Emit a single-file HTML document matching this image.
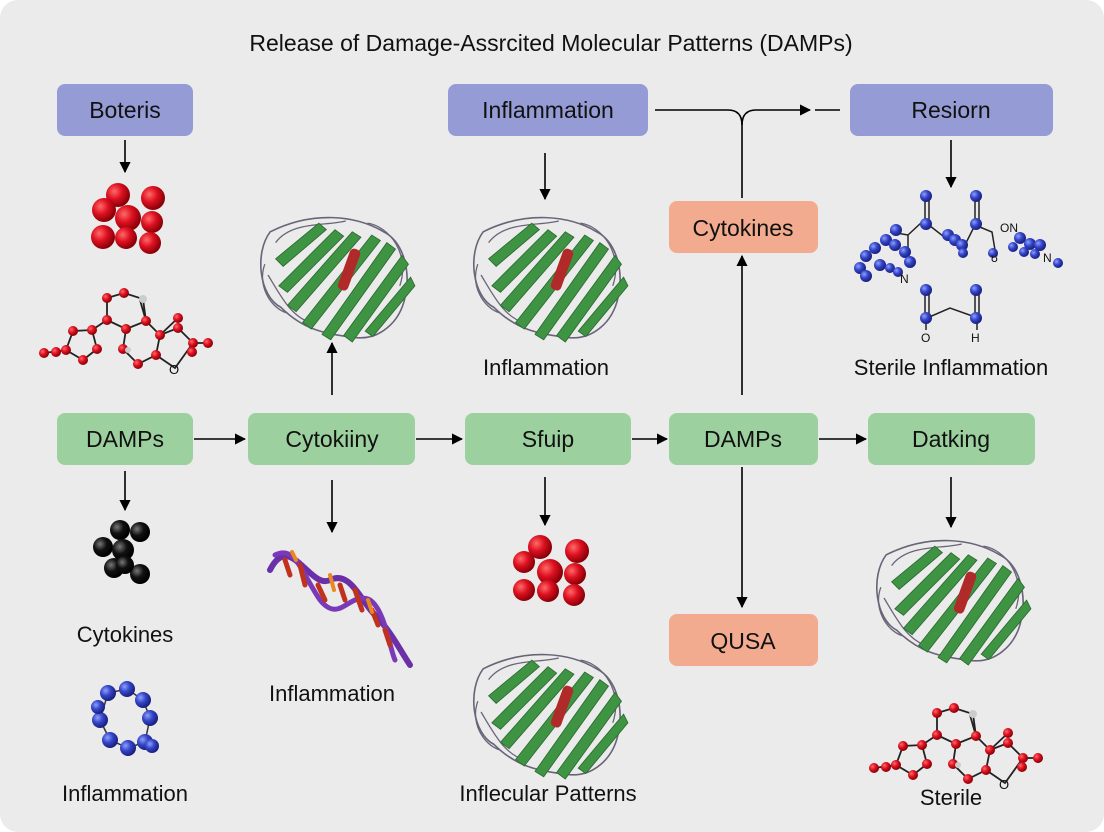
<!DOCTYPE html>
<html><head><meta charset="utf-8"><style>
html,body{margin:0;padding:0;background:#fff;}
svg{display:block;}
text{font-family:"Liberation Sans",sans-serif;fill:#111;}
</style></head><body>
<svg width="1104" height="832" viewBox="0 0 1104 832" xmlns="http://www.w3.org/2000/svg">
<defs>
<radialGradient id="rg" cx="35%" cy="35%" r="65%"><stop offset="0" stop-color="#ff6a6a"/><stop offset="0.5" stop-color="#dd1020"/><stop offset="1" stop-color="#8a0008"/></radialGradient>
<radialGradient id="bg" cx="35%" cy="35%" r="65%"><stop offset="0" stop-color="#8fa0ff"/><stop offset="0.5" stop-color="#3445c8"/><stop offset="1" stop-color="#1a2080"/></radialGradient>
<radialGradient id="kg" cx="35%" cy="35%" r="65%"><stop offset="0" stop-color="#777"/><stop offset="0.5" stop-color="#111"/><stop offset="1" stop-color="#000"/></radialGradient>
<marker id="ah" viewBox="0 0 10 10" refX="9" refY="5" markerWidth="7" markerHeight="7" orient="auto"><path d="M0,0 L10,5 L0,10 z" fill="#000"/></marker>
<g id="prot">
 <path d="M-60,-40 C-75,-20 -70,20 -50,30 C-30,50 -10,55 20,58 C40,60 60,45 65,20 C70,0 65,-30 45,-40 C20,-55 -20,-60 -60,-40 Z" fill="none" stroke="#6a6478" stroke-width="1.5"/>
 <path d="M-55,-30 C-40,-50 -10,-45 10,-50 M-62,0 C-50,20 -40,40 -20,45 M30,-48 C50,-45 70,-20 60,10 M-65,-10 C-72,10 -60,30 -45,35" fill="none" stroke="#6a6478" stroke-width="1.2"/>
 <g fill="#3f9444" stroke="#2b6b30" stroke-width="0.8">
  <path d="M-55,-15 L-15,-48 L-8,-42 L-48,-8 Z"/>
  <path d="M-52,10 L0,-42 L8,-36 L-44,16 Z"/>
  <path d="M-44,28 L16,-40 L24,-35 L-36,34 Z"/>
  <path d="M-30,44 L34,-37 L42,-32 L-22,50 Z"/>
  <path d="M-12,55 L48,-30 L56,-24 L-4,60 Z"/>
  <path d="M8,56 L62,-18 L68,-10 L16,62 Z"/>
  <path d="M28,52 L70,2 L74,10 L35,57 Z"/>
 </g>
 <rect x="8" y="-25" width="10" height="40" rx="4" transform="rotate(20 13 -5)" fill="#b02a2a"/>
</g>
<g id="redmol">
 <g stroke="#222" stroke-width="1.8" fill="none">
  <path d="M44,353 L66,350 L73,331 L92,330 L97,349 L83,360 L66,350 M92,330 L107,320 L107,298 L124,293 L143,299 L146,321 L126,329 L107,320 M126,329 L123,349 L138,364 L156,355 L160,335 L146,321 M160,335 L178,318 M160,335 L178,328 L193,343 L208,343 M193,343 L175,368 L156,355 M140,300 L146,321"/>
 </g>
 <g fill="url(#rg)">
  <circle cx="44" cy="353" r="5"/><circle cx="56" cy="352" r="5"/><circle cx="66" cy="350" r="5"/><circle cx="73" cy="331" r="5"/><circle cx="92" cy="330" r="5"/><circle cx="97" cy="349" r="5"/><circle cx="83" cy="360" r="5"/><circle cx="107" cy="320" r="5"/><circle cx="107" cy="298" r="5"/><circle cx="124" cy="293" r="5"/><circle cx="146" cy="321" r="5"/><circle cx="126" cy="329" r="5"/><circle cx="123" cy="349" r="5"/><circle cx="138" cy="364" r="5"/><circle cx="156" cy="355" r="5"/><circle cx="160" cy="335" r="5"/><circle cx="178" cy="318" r="5"/><circle cx="178" cy="328" r="5"/><circle cx="193" cy="343" r="5"/><circle cx="208" cy="343" r="5"/><circle cx="192" cy="352" r="5"/>
 </g>
 <circle cx="143" cy="299" r="4" fill="#ccc"/><circle cx="128" cy="350" r="3" fill="#ccc"/>
 <text x="169" y="374" font-size="13">O</text>
</g>
</defs>
<rect x="0" y="0" width="1104" height="832" rx="18" fill="#ebebeb"/>
<text x="551" y="51" font-size="23" text-anchor="middle">Release of Damage-Assrcited Molecular Patterns (DAMPs)</text>

<!-- boxes -->
<g font-size="23">
<rect x="57" y="84" width="136" height="52" rx="8" fill="#959bd4"/><text x="125" y="118" text-anchor="middle">Boteris</text>
<rect x="448" y="84" width="200" height="52" rx="8" fill="#959bd4"/><text x="548" y="118" text-anchor="middle">Inflammation</text>
<rect x="850" y="84" width="203" height="52" rx="8" fill="#959bd4"/><text x="951" y="118" text-anchor="middle">Resiorn</text>
<rect x="669" y="201" width="149" height="52" rx="8" fill="#f2ab8e"/><text x="743" y="236" text-anchor="middle">Cytokines</text>
<rect x="669" y="614" width="149" height="52" rx="8" fill="#f2ab8e"/><text x="743" y="649" text-anchor="middle">QUSA</text>
<rect x="57" y="413" width="136" height="52" rx="8" fill="#9dd09f"/><text x="125" y="447" text-anchor="middle">DAMPs</text>
<rect x="248" y="413" width="167" height="52" rx="8" fill="#9dd09f"/><text x="332" y="447" text-anchor="middle">Cytokiiny</text>
<rect x="465" y="413" width="166" height="52" rx="8" fill="#9dd09f"/><text x="548" y="447" text-anchor="middle">Sfuip</text>
<rect x="669" y="413" width="149" height="52" rx="8" fill="#9dd09f"/><text x="743" y="447" text-anchor="middle">DAMPs</text>
<rect x="868" y="413" width="167" height="52" rx="8" fill="#9dd09f"/><text x="951" y="447" text-anchor="middle">Datking</text>
</g>

<!-- arrows -->
<g stroke="#000" stroke-width="1.6" fill="none" marker-end="url(#ah)">
<path d="M125,140 V172"/><path d="M545,153 V199"/><path d="M951,140 V187"/>
<path d="M194,439 H245"/><path d="M416,439 H462"/><path d="M632,439 H667"/><path d="M819,439 H866"/>
<path d="M332,395 V343"/><path d="M742,395 V256"/><path d="M742,467 V607"/>
<path d="M125,471 V510"/><path d="M332,480 V532"/><path d="M545,477 V525"/><path d="M951,477 V527"/>
<path d="M742,198 V125 Q742,110 756,110 H810"/>
</g>
<g stroke="#000" stroke-width="1.6" fill="none">
<path d="M655,110 H728 Q742,110 742,125"/><path d="M815,110 H840"/>
</g>

<!-- labels -->
<g font-size="22" text-anchor="middle">
<text x="546" y="375">Inflammation</text>
<text x="951" y="375">Sterile Inflammation</text>
<text x="125" y="642">Cytokines</text>
<text x="332" y="701">Inflammation</text>
<text x="125" y="801">Inflammation</text>
<text x="548" y="801">Inflecular Patterns</text>
<text x="951" y="805">Sterile</text>
</g>

<!-- red cluster top -->
<g fill="url(#rg)">
<circle cx="118" cy="195" r="12"/><circle cx="153" cy="198" r="12"/><circle cx="104" cy="210" r="12"/><circle cx="128" cy="218" r="13"/><circle cx="152" cy="222" r="11"/><circle cx="103" cy="237" r="12"/><circle cx="126" cy="238" r="11"/><circle cx="150" cy="243" r="11"/>
</g>
<use href="#redmol"/>
<use href="#redmol" transform="translate(830,415)"/>

<!-- black cluster -->
<g fill="url(#kg)">
<circle cx="120" cy="530" r="10"/><circle cx="140" cy="532" r="10"/><circle cx="103" cy="547" r="10"/><circle cx="123" cy="550" r="11"/><circle cx="114" cy="568" r="10"/><circle cx="140" cy="574" r="10"/><circle cx="125" cy="565" r="9"/>
</g>
<!-- blue ring -->
<g stroke="#333" stroke-width="1.5" fill="none"><path d="M108,693 L127,689 L143,700 L150,718 L145,742 L128,748 L110,740 L100,720 Z"/></g>
<g fill="url(#bg)">
<circle cx="108" cy="693" r="8"/><circle cx="127" cy="689" r="8"/><circle cx="143" cy="700" r="8"/><circle cx="150" cy="718" r="8"/><circle cx="145" cy="742" r="8"/><circle cx="152" cy="746" r="7"/><circle cx="128" cy="748" r="8"/><circle cx="110" cy="740" r="8"/><circle cx="100" cy="720" r="8"/><circle cx="98" cy="707" r="7"/>
</g>

<!-- proteins -->
<use href="#prot" transform="translate(335,275) scale(1.08)"/>
<use href="#prot" transform="translate(548,275) scale(1.08)"/>
<use href="#prot" transform="translate(548,712) scale(1.08)"/>
<use href="#prot" transform="translate(951,598) scale(1.08)"/>

<!-- DNA -->
<g fill="none" stroke-linecap="round">
<path d="M270,570 C290,530 310,590 330,580 C350,570 360,600 375,615 C390,630 400,650 410,665" stroke="#6b2fa8" stroke-width="6"/>
<path d="M275,555 C295,545 300,570 320,600 C340,625 350,590 370,600 C385,610 390,650 395,660" stroke="#7a3ab8" stroke-width="5"/>
<g stroke="#c0321e" stroke-width="5">
<path d="M285,560 L290,575"/><path d="M300,565 L305,585"/><path d="M318,585 L325,600"/><path d="M340,585 L345,600"/><path d="M355,590 L362,610"/><path d="M372,610 L378,625"/><path d="M385,630 L390,645"/>
</g>
<g stroke="#e88a20" stroke-width="4"><path d="M292,552 L296,560"/><path d="M330,575 L334,590"/><path d="M368,600 L372,612"/></g>
</g>

<!-- red cluster mid -->
<g fill="url(#rg)">
<circle cx="540" cy="547" r="12"/><circle cx="577" cy="551" r="12"/><circle cx="524" cy="562" r="11"/><circle cx="550" cy="572" r="13"/><circle cx="575" cy="574" r="11"/><circle cx="524" cy="590" r="11"/><circle cx="548" cy="591" r="11"/><circle cx="574" cy="595" r="11"/>
</g>

<!-- blue molecule -->
<g stroke="#222" stroke-width="1.5" fill="none">
<path d="M925,195 V222 M929,195 V222 M925,222 L948,240 L965,245 L975,225 L975,195 M979,195 V225 M975,225 L992,232 L995,250 M890,232 L908,235 L922,222 M908,235 V258 M925,290 V318 M929,290 V318 M927,318 L950,308 L978,318 M975,290 V318 M979,290 V318 M926,322 V330 M977,322 V330"/>
</g>
<g fill="url(#bg)">
<circle cx="926" cy="196" r="6"/><circle cx="976" cy="196" r="6"/><circle cx="926" cy="224" r="6"/><circle cx="976" cy="224" r="6"/><circle cx="948" cy="235" r="6"/><circle cx="955" cy="240" r="6"/><circle cx="962" cy="245" r="6"/><circle cx="963" cy="253" r="5"/><circle cx="993" cy="253" r="5"/>
<circle cx="896" cy="230" r="6"/><circle cx="886" cy="240" r="6"/><circle cx="875" cy="248" r="6"/><circle cx="866" cy="256" r="6"/><circle cx="860" cy="268" r="6"/><circle cx="866" cy="276" r="6"/><circle cx="880" cy="265" r="6"/><circle cx="895" cy="245" r="6"/><circle cx="905" cy="252" r="6"/><circle cx="910" cy="262" r="6"/><circle cx="890" cy="268" r="5"/><circle cx="898" cy="272" r="5"/>
<circle cx="1020" cy="238" r="6"/><circle cx="1030" cy="244" r="6"/><circle cx="1040" cy="245" r="6"/><circle cx="1013" cy="247" r="5"/><circle cx="1024" cy="252" r="5"/><circle cx="1035" cy="254" r="5"/><circle cx="1058" cy="263" r="5"/>
<circle cx="926" cy="290" r="6"/><circle cx="976" cy="290" r="6"/><circle cx="926" cy="318" r="6"/><circle cx="976" cy="318" r="6"/>
</g>
<g font-size="12"><text x="1000" y="232">ON</text><text x="1043" y="262">N</text><text x="900" y="283">N</text><text x="991" y="262">ʊ</text><text x="921" y="342">O</text><text x="971" y="342">H</text></g>
</svg>
</body></html>
